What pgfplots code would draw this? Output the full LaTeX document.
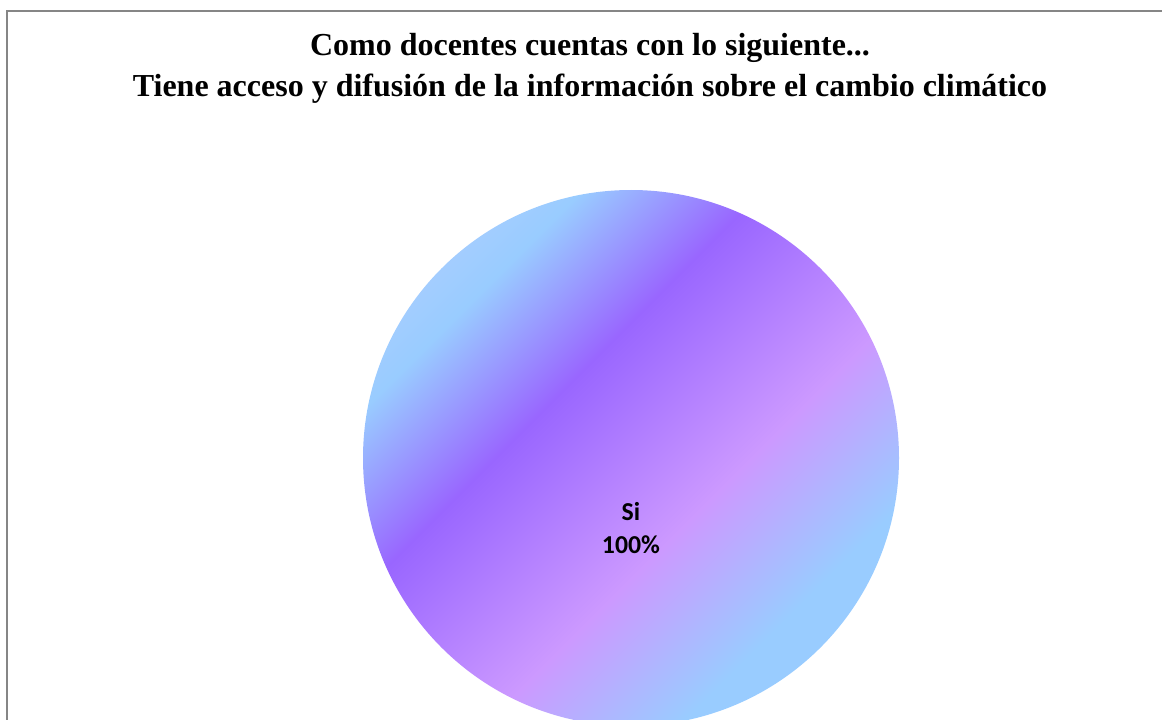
\documentclass[border=0pt]{standalone}
\usepackage{pgfplots}
\pgfplotsset{compat=1.18}
\usepackage{fontspec}
\setmainfont{Liberation Serif}
\newfontfamily\labelfont{Carlito}

\definecolor{edgeblue}{RGB}{163,205,255}
\definecolor{lightblue}{RGB}{153,204,255}
\definecolor{deeppurple}{RGB}{153,102,255}
\definecolor{lilac}{RGB}{204,153,255}
\definecolor{framegray}{RGB}{134,134,134}

% diagonal fill of the slice (25bp..75bp spans the circle)
\pgfdeclarehorizontalshading{pieshade}{100bp}{%
  color(0bp)=(edgeblue); color(25bp)=(edgeblue); color(29bp)=(lightblue);
  color(41bp)=(deeppurple); color(58bp)=(lilac); color(71bp)=(lightblue);
  color(100bp)=(lightblue)}

\pgfdeclareplotmark{shadedpie}{%
  \pgfpathcircle{\pgfpointorigin}{\pgfplotmarksize}%
  \pgfshadepath{pieshade}{-45}%
  \pgfusepath{discard}%
}

\begin{document}
\begin{tikzpicture}
\useasboundingbox (0,0) rectangle (581pt,359.5pt);
\fill[white] (0,0) rectangle (581pt,359.5pt);
% chart area border (only top and left inside the picture)
\draw[framegray, line width=1.3pt] (3.5pt,-5pt) -- (3.5pt,354pt) -- (600pt,354pt);

\node[align=center, font=\fontsize{16}{20.5}\selectfont\bfseries] at (295pt,325.5pt)
  {Como docentes cuentas con lo siguiente...\\
   Tiene acceso y difusión de la información sobre el cambio climático};

\begin{axis}[
    at={(315.5pt,130.5pt)}, anchor=center,
    scale only axis, width=268pt, height=268pt,
    xmin=-1, xmax=1, ymin=-1, ymax=1,
    hide axis, clip=false,
]
% Si = 100%
\addplot[only marks, mark=shadedpie, mark size=134pt,
    point meta=explicit,
    nodes near coords={Si\\\pgfmathprintnumber[assume math mode=true]{\pgfplotspointmeta}\%},
    nodes near coords style={align=center, anchor=center, yshift=-35pt,
      font=\labelfont\fontsize{12.9}{16.5}\selectfont\bfseries, text=black}]
  coordinates {(0,0) [100]};
\end{axis}
\end{tikzpicture}
\end{document}
